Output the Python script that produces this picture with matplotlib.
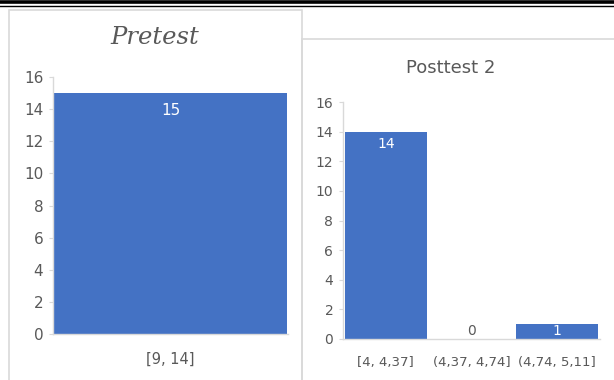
import matplotlib.pyplot as plt
from matplotlib.patches import Rectangle
from matplotlib.lines import Line2D

# data
pre_labels = ['[9, 14]']
pre_counts = [15]
post_labels = ['[4, 4,37]', '(4,37, 4,74]', '(4,74, 5,11]']
post_counts = [14, 0, 1]

BAR = '#4472C4'
TXT = '#595959'
GRID = '#d9d9d9'

W, H = 614, 380
fig = plt.figure(figsize=(W / 100, H / 100), dpi=100)
fig.patch.set_facecolor('white')


def px(x0, y0, x1, y1):
    # pixel box (top-left origin) -> figure fraction rect
    return [x0 / W, 1 - y1 / H, (x1 - x0) / W, (y1 - y0) / H]


# page rules at top
fig.add_artist(Line2D([0, 1], [1 - 1.7 / H, 1 - 1.7 / H], color='black', lw=2.6))
fig.add_artist(Line2D([0, 1], [1 - 6 / H, 1 - 6 / H], color='black', lw=1.0))

# chart frames
fig.add_artist(Rectangle((8.5 / W, -0.05), (302 - 8.5) / W, 1 - 9.5 / H + 0.05,
                         transform=fig.transFigure, fill=False, ec=GRID, lw=1.2))
fig.add_artist(Rectangle((302 / W, -0.05), 0.6, 1 - 39 / H + 0.05,
                         transform=fig.transFigure, fill=False, ec=GRID, lw=1.2))


def style(ax, fs, xfs, xpad):
    for s in ['top', 'right']:
        ax.spines[s].set_visible(False)
    for s in ['left', 'bottom']:
        ax.spines[s].set_color(GRID)
        ax.spines[s].set_linewidth(1)
    ax.set_ylim(0, 16)
    ax.set_yticks(range(0, 17, 2))
    ax.tick_params(axis='y', colors=GRID, labelcolor=TXT, labelsize=fs, length=3, pad=4)
    ax.tick_params(axis='x', colors=GRID, labelcolor=TXT, labelsize=xfs, length=0, pad=xpad)
    ax.set_facecolor('none')


# Pretest
ax1 = fig.add_axes(px(53, 77, 288, 334))
b1 = ax1.bar(range(len(pre_counts)), pre_counts, width=0.995, color=BAR)
ax1.set_xlim(-0.5, 0.5)
ax1.set_xticks(range(len(pre_labels)))
ax1.set_xticklabels(pre_labels)
style(ax1, 11, 10.5, 12.5)
ax1.bar_label(b1, padding=-18, color='white', fontsize=11)
fig.text(155 / W, 1 - 38 / H, 'Pretest', ha='center', va='center', fontsize=17.5,
         style='italic', family='DejaVu Serif', color=TXT)

# Posttest 2
ax2 = fig.add_axes(px(343, 102, 600, 339))
b2 = ax2.bar(range(len(post_counts)), post_counts, width=0.96, color=BAR)
ax2.set_xlim(-0.5, 2.5)
ax2.set_xticks(range(len(post_labels)))
ax2.set_xticklabels(post_labels)
style(ax2, 10, 9.5, 12)
for rect, v in zip(b2, post_counts):
    cx = rect.get_x() + rect.get_width() / 2
    if v >= 2:
        ax2.annotate(str(v), (cx, v), xytext=(0, -4), textcoords='offset points',
                     ha='center', va='top', color='white', fontsize=10)
    else:
        ax2.annotate(str(v), (cx, 0), xytext=(0, 1), textcoords='offset points',
                     ha='center', va='bottom', color=TXT if v == 0 else 'white', fontsize=10)
fig.text(451 / W, 1 - 68 / H, 'Posttest 2', ha='center', va='center', fontsize=13,
         color=TXT)

fig.savefig('out.png', dpi=100)
